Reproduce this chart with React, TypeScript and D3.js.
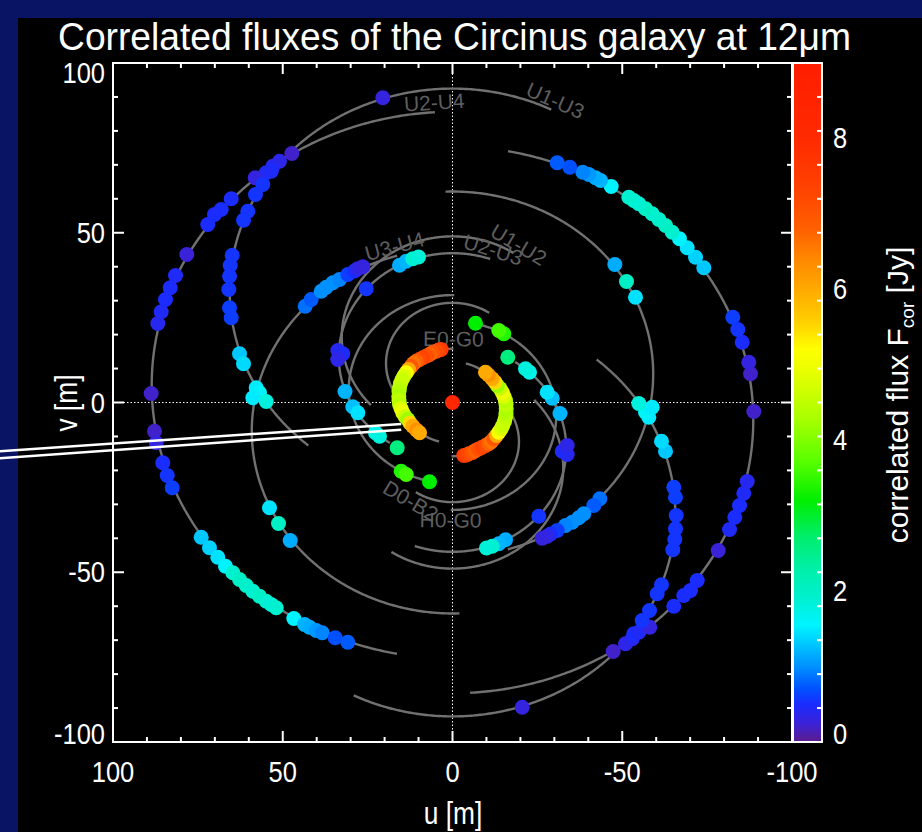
import React from 'react';
import * as d3 from 'd3';

const WIDTH = 922;
const HEIGHT = 832;

// Observing geometry (Paranal, Circinus galaxy)
const LATITUDE = -24.627;
const DECLINATION = -65.339;
const hourAngleRange = [-83, 83];

// Baselines: East / North components of the station vectors [m]
const baselineNames = ['U1-U2', 'U1-U3', 'U2-U3', 'U2-U4', 'U3-U4', 'E0-G0', 'H0-G0', 'D0-B2'];
const baselineEast = [24.812, 54.84, 30.028, 88.419, 58.391, 15.136, 30.254, 14.889];
const baselineNorth = [50.837, 86.518, 35.681, 13.497, -22.184, 5.101, 10.208, 30.502];
const baselineLabelSide = [1, 1, 1, 1, 1, 1, -1, -1];

// Measured points (one of each symmetric pair; the mirror (-u,-v) is drawn too)
const pointU = [
  20.53, 47.33, 50.96, 52.93, 53.4, 54.87, 58.11, 55.88, 58.03, 65.18, 68.13, 70.1, 72.08, 60.29, 61.56,
  78.26, 81.59, 83.15, 84.54, 85.8, 86.8, 88.75, 64.89, 65.48, 65.68, 65.89, 65.68, 65.18, 62.74, 61.56,
  57.82, 56.85, 58.82, 54.87, 87.78, 87.27, 85.33, 84.03, 82.56, 74.02, 71.58, 69.13, 66.86, 64.71, 62.74,
  60.77, 58.82, 56.85, 54.87, 53.4, 51.93, 46.74, 43.59, 42.12, 40.15, 38.38, 34.55, 30.84, 43.39, 41.62,
  38.67, 37.2, 35.26, 33.28, 30.84, 28.87, 27.89, 26.42, 53.9, 51.25, 47.81, 25.42, 15.61, 13.64, 11.69,
  10.01, 33.78, 32.31, 33.78, 31.66, 29.37, 27.89, 22.68, 21.5, 16.29, 15.11, 13.64, 6.77,
  3.33, 4.12, 4.8, 5.89, 6.77, 7.66, 8.75, 9.72, 10.69, 11.49, 12.16, 12.96, 13.64, 14.29, 14.82,
  15.32, 15.61, 15.76, 15.82, 15.76, 15.61, 15.17, 14.64, 13.99, 13.17, 12.52, 11.69, 10.6, 9.72,
];
const pointV = [
  89.75, 73.34, 71.08, 69.6, 68.13, 67.66, 66.18, 64.21, 61.27, 60.0, 56.85, 55.38, 52.43, 56.35, 53.7,
  43.59, 37.41, 33.78, 30.34, 26.72, 23.27, 2.65, 43.39, 40.35, 37.2, 33.28, 27.89, 24.95, 14.34, 11.4,
  4.33, 2.86, 1.38, 0.29, -8.45, -11.87, -17.76, -21.5, -25.13, -39.68, -42.8, -45.57, -48.22, -50.16, -52.14,
  -53.9, -55.58, -57.05, -58.53, -59.5, -60.47, -63.62, -65.39, -66.19, -67.16, -67.84, -69.31, -70.6, 28.37, 30.34,
  32.78, 33.96, 35.26, 36.23, 37.7, 38.73, 39.38, 39.97, -31.02, -35.64, -40.65, 33.49, 40.44, 41.62, 42.33,
  42.86, 15.32, 14.34, 12.67, 3.24, -1.27, -3.03, -8.92, -9.93, -13.34, -20.24, -21.21, -23.36,
  15.61, 15.46, 15.11, 14.73, 14.14, 13.7, 13.17, 12.67, 12.16, 11.49, 10.69, 9.72, 8.75, 7.81, 6.77,
  5.6, 4.33, 3.24, 1.86, 0.59, -0.59, -1.77, -3.03, -4.12, -5.01, -6.04, -6.98, -8.1, -8.92,
];
const pointFlux = [
  0.3, 0.2, 0.35, 0.4, 0.5, 0.45, 0.3, 0.55, 0.55, 0.5, 0.5, 0.5, 0.5, 0.55, 0.55,
  0.25, 0.45, 0.5, 0.5, 0.45, 0.4, 0.2, 0.55, 0.55, 0.55, 0.55, 0.6, 0.6, 1.3, 1.4,
  1.5, 1.6, 1.5, 1.8, 0.2, 0.3, 0.5, 0.55, 0.6, 1.3, 1.35, 1.45, 1.55, 1.9, 2.0,
  1.95, 1.9, 2.0, 1.9, 1.85, 1.9, 1.55, 1.2, 1.15, 1.05, 0.95, 0.7, 0.75, 0.85, 0.75,
  1.0, 1.0, 1.0, 0.95, 0.6, 0.5, 0.35, 0.3, 1.45, 2.0, 1.15, 0.55, 1.15, 1.2, 1.9,
  1.85, 0.4, 0.45, 0.35, 1.2, 1.25, 1.45, 1.7, 1.8, 2.6, 3.4, 3.6, 3.2,
  7.6, 7.4, 7.2, 7.0, 6.8, 7.1, 7.3, 7.2, 6.8, 6.6, 7.0, 6.0, 5.2, 4.8, 4.6,
  4.6, 4.5, 4.4, 4.3, 4.5, 4.4, 4.8, 5.0, 4.6, 4.2, 5.5, 6.0, 6.3, 6.0,
];
const centerFlux = 8.2;

// Colour table
const fluxStops = [0, 0.25, 0.5, 0.7, 1.0, 1.3, 1.55, 1.9, 2.3, 2.7, 3.2, 3.7, 4.3, 4.9, 5.2, 5.6, 6.0, 6.4, 6.8, 7.3, 8.0, 9.0];
const fluxColors = ['#5c1c8c', '#3a22d8', '#1a2cff', '#0050ff', '#0090ff', '#00c8ff', '#00f4ff', '#00f0d0', '#00f0a8', '#00ee70', '#00ee00', '#55ff00', '#aaff00', '#e8ff00', '#ffff00', '#ffcc00', '#ffaa00', '#ff8800', '#ff6000', '#ff4400', '#ff2a00', '#ff1e00'];

const xTickLabels = [100, 50, 0, -50, -100];
const yTickLabels = [100, 50, 0, -50, -100];
const cbTickLabels = [0, 2, 4, 6, 8];

// Annotation pointer (double line), in u/v units
const pointerU = [133.4, 15.1];
const pointerV1 = [-14.4, -6.3];
const pointerV2 = [-16.4, -8.0];

const FONT = "'Liberation Sans', Arial, Helvetica, sans-serif";

function CText({ x, y, sx = 1, rotate = 0, children, ...rest }: any) {
  return (
    <text transform={`translate(${x},${y}) rotate(${rotate}) scale(${sx},1)`} fontFamily={FONT} {...rest}>
      {children}
    </text>
  );
}

export default function App() {
  const PX0 = 113, PX1 = 792, PY0 = 63, PY1 = 742;
  const xs = d3.scaleLinear().domain([100, -100]).range([PX0, PX1]);
  const ys = d3.scaleLinear().domain([-100, 100]).range([PY1, PY0]);
  const cs = d3.scaleLinear().domain([0, 9]).range([PY1, PY0]);
  const color = d3.scaleLinear<string>().domain(fluxStops).range(fluxColors).clamp(true);

  const phi = (LATITUDE * Math.PI) / 180;
  const dec = (DECLINATION * Math.PI) / 180;
  const uvAt = (E: number, N: number, hDeg: number) => {
    const h = (hDeg * Math.PI) / 180;
    const X = -Math.sin(phi) * N;
    const Y = E;
    const Z = Math.cos(phi) * N;
    const u = X * Math.sin(h) + Y * Math.cos(h);
    const v = -Math.sin(dec) * X * Math.cos(h) + Math.sin(dec) * Y * Math.sin(h) + Math.cos(dec) * Z;
    return [u, v];
  };
  const line = d3.line<number[]>().x((d) => xs(d[0])).y((d) => ys(d[1]));
  const hs = d3.range(hourAngleRange[0], hourAngleRange[1] + 0.01, 0.5);

  const tracks: { d: string; key: string }[] = [];
  const labels: any[] = [];
  baselineNames.forEach((name, i) => {
    const E = baselineEast[i], N = baselineNorth[i];
    [1, -1].forEach((s) => {
      const pts = hs.map((h) => {
        const [u, v] = uvAt(E, N, h);
        return [s * u, s * v];
      });
      tracks.push({ d: line(pts) as string, key: name + s });
    });
    const s = baselineLabelSide[i];
    const h0 = hourAngleRange[0];
    const [u0, v0] = uvAt(E, N, h0);
    const [u1, v1] = uvAt(E, N, h0 + 1);
    const px = xs(s * u0), py = ys(s * v0);
    let tx = xs(s * u1) - px, ty = ys(s * v1) - py;
    const len = Math.hypot(tx, ty);
    tx /= len; ty /= len;
    const cv = s * Math.cos(dec) * Math.cos(phi) * N;
    const cx = xs(0), cy = ys(cv);
    let nx = -ty, ny = tx;
    if (nx * (px - cx) + ny * (py - cy) < 0) { nx = -nx; ny = -ny; }
    let ang = (Math.atan2(ty, tx) * 180) / Math.PI;
    if (ang > 90) ang -= 180;
    if (ang < -90) ang += 180;
    labels.push({ name, x: px + nx * 10, y: py + ny * 10, ang });
  });

  const pts: { u: number; v: number; f: number }[] = [];
  pointU.forEach((u, i) => {
    pts.push({ u, v: pointV[i], f: pointFlux[i] });
    pts.push({ u: -u, v: -pointV[i], f: pointFlux[i] });
  });

  const minor = d3.range(-100, 100.01, 10);
  const tickLen = (t: number) => (Math.abs(t) % 50 === 0 ? 11 : 5);

  const CBX0 = 793, CBX1 = 822;
  const cbMinor = d3.range(0, 9.001, 0.45);

  return (
    <svg width={WIDTH} height={HEIGHT} style={{ position: 'fixed', left: 0, top: 0 }}>
      <defs>
        <linearGradient id="cbgrad" x1="0" y1="1" x2="0" y2="0">
          {fluxStops.map((s, i) => (
            <stop key={i} offset={s / 9} stopColor={fluxColors[i]} />
          ))}
        </linearGradient>
        <clipPath id="plotclip">
          <rect x={PX0} y={PY0} width={PX1 - PX0} height={PY1 - PY0} />
        </clipPath>
      </defs>
      <rect x={0} y={0} width={WIDTH} height={HEIGHT} fill="#0a1464" />
      <rect x={18} y={18} width={WIDTH - 18} height={HEIGHT - 18} fill="#000" />

      {/* title */}
      <text x={58} y={50} fontFamily={FONT} fontSize={38} fill="#fff" textLength={793} lengthAdjust="spacingAndGlyphs">
        Correlated fluxes of the Circinus galaxy at 12μm
      </text>

      {/* zero lines */}
      <line x1={xs(0)} x2={xs(0)} y1={PY0} y2={PY1} stroke="#fff" strokeWidth={1} strokeDasharray="1.5,2" />
      <line x1={PX0} x2={PX1} y1={ys(0)} y2={ys(0)} stroke="#fff" strokeWidth={1} strokeDasharray="1.5,2" />

      {/* tracks */}
      <g clipPath="url(#plotclip)">
        {tracks.map((t) => (
          <path key={t.key} d={t.d} fill="none" stroke="#717171" strokeWidth={2.4} />
        ))}
        {labels.map((l) => (
          <CText key={l.name} x={l.x} y={l.y} rotate={l.ang} fontSize={21} fill="#5e5e5e" textAnchor="middle" dominantBaseline="central">
            {l.name}
          </CText>
        ))}
        {pts.map((p, i) => (
          <circle key={i} cx={xs(p.u)} cy={ys(p.v)} r={7.5} fill={color(p.f)} />
        ))}
        <circle cx={xs(0)} cy={ys(0)} r={7.5} fill={color(centerFlux)} />
      </g>

      {/* frame and ticks */}
      <rect x={PX0} y={PY0} width={PX1 - PX0} height={PY1 - PY0} fill="none" stroke="#fff" strokeWidth={2} />
      {minor.map((t) => (
        <g key={t} stroke="#fff" strokeWidth={2}>
          <line x1={xs(t)} x2={xs(t)} y1={PY1} y2={PY1 - tickLen(t)} />
          <line x1={xs(t)} x2={xs(t)} y1={PY0} y2={PY0 + tickLen(t)} />
          <line x1={PX0} x2={PX0 + tickLen(t)} y1={ys(t)} y2={ys(t)} />
          <line x1={PX1} x2={PX1 - tickLen(t)} y1={ys(t)} y2={ys(t)} />
        </g>
      ))}
      {xTickLabels.map((t) => (
        <CText key={t} x={xs(t)} y={782} sx={0.85} fontSize={30} fill="#fff" textAnchor="middle">
          {t}
        </CText>
      ))}
      {yTickLabels.map((t) => (
        <CText key={t} x={105} y={Math.min(Math.max(ys(t) + 10, 83), 744)} sx={0.85} fontSize={30} fill="#fff" textAnchor="end">
          {t}
        </CText>
      ))}
      <CText x={453} y={824} sx={0.85} fontSize={31} fill="#fff" textAnchor="middle">u [m]</CText>
      <CText x={77} y={403} rotate={-90} sx={0.85} fontSize={31} fill="#fff" textAnchor="middle">v [m]</CText>

      {/* pointer */}
      <line x1={xs(pointerU[0])} y1={ys(pointerV1[0])} x2={xs(pointerU[1])} y2={ys(pointerV1[1])} stroke="#fff" strokeWidth={2.5} />
      <line x1={xs(pointerU[0])} y1={ys(pointerV2[0])} x2={xs(pointerU[1])} y2={ys(pointerV2[1])} stroke="#fff" strokeWidth={2.5} />

      {/* colour bar */}
      <rect x={CBX0} y={PY0} width={CBX1 - CBX0} height={PY1 - PY0} fill="url(#cbgrad)" />
      <rect x={CBX0} y={PY0} width={CBX1 - CBX0} height={PY1 - PY0} fill="none" stroke="#fff" strokeWidth={2} />
      {cbMinor.map((t, i) => (
        <g key={i} stroke="#fff" strokeWidth={2}>
          <line x1={CBX1} x2={CBX1 - 5} y1={cs(t)} y2={cs(t)} />
        </g>
      ))}
      {cbTickLabels.map((t) => (
        <CText key={t} x={833} y={Math.min(cs(t) + 10, 744)} sx={0.85} fontSize={30} fill="#fff" textAnchor="start">
          {t}
        </CText>
      ))}
      <text transform="translate(908,395) rotate(-90)" fontFamily={FONT} fontSize={30} fill="#fff" textAnchor="middle">
        correlated flux F<tspan fontSize={19} dy={6}>cor</tspan><tspan dy={-6}> [Jy]</tspan>
      </text>
    </svg>
  );
}
